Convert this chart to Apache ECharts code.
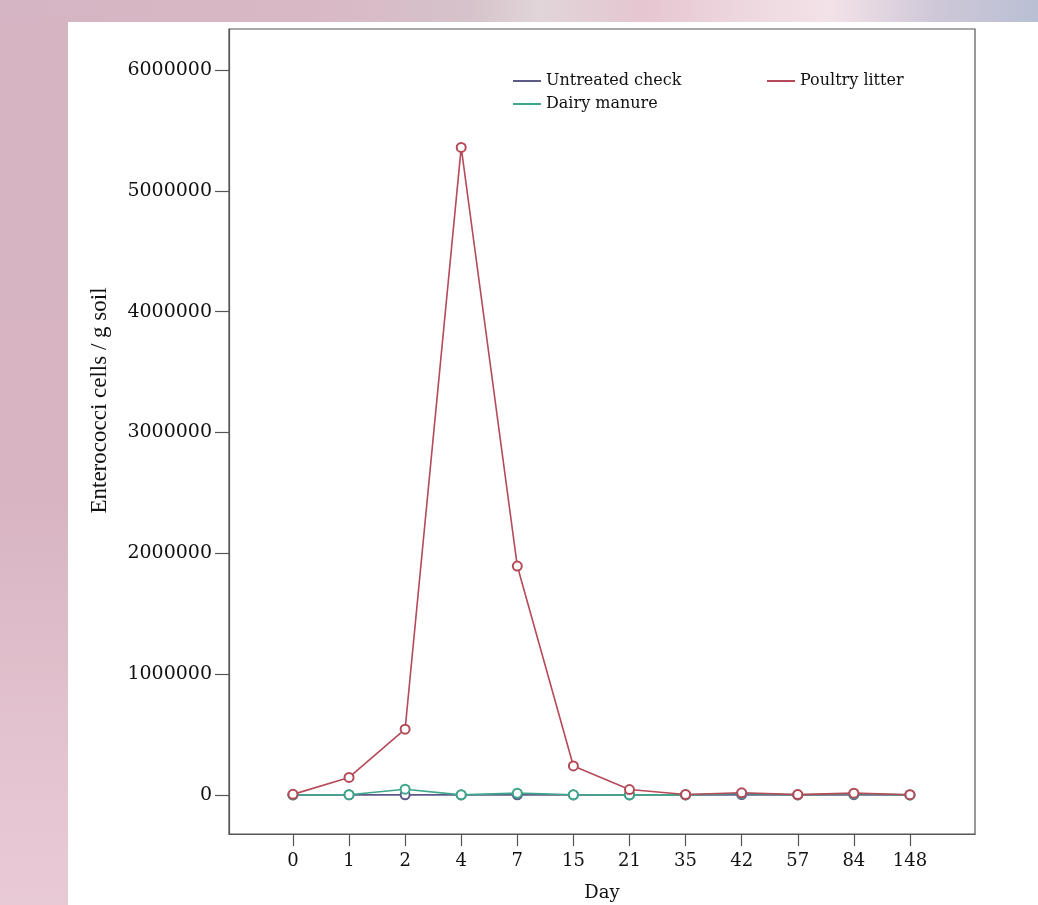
<!DOCTYPE html>
<html>
<head>
<meta charset="utf-8">
<script src="https://cdn.jsdelivr.net/npm/echarts@6/dist/echarts.min.js"></script>
<style>
html, body { margin: 0; padding: 0; }
body {
  width: 1038px; height: 905px; overflow: hidden;
  background:
    linear-gradient(to right, #d5b5c3 0%, #d9b8c6 30%, #d6c2ca 45%, #e0d5d9 52%, #e6c6d0 62%, #eed8e0 72%, #f3e2e8 80%, #cfc8d8 90%, #b9bfd4 100%) top left / 100% 22px no-repeat,
    linear-gradient(to bottom, #d6b4c2 0%, #d8b4c2 55%, #e2c2ce 80%, #e8cad6 100%) top left / 68px 100% no-repeat,
    #ffffff;
}
#chart { position: absolute; left: 0; top: 0; width: 1038px; height: 905px; }
</style>
</head>
<body>
<div id="chart"></div>
<script>
// ---- Data ----
const days = ['0', '1', '2', '4', '7', '15', '21', '35', '42', '57', '84', '148'];
const untreatedCheck = [500, 1000, 1000, 800, 1500, 600, 500, 400, 3000, 500, 2000, 300];
const poultryLitter = [5000, 145000, 545000, 5360000, 1895000, 240000, 45000, 4000, 18000, 3000, 15000, 2000];
const dairyManure = [1000, 2000, 48000, 1000, 15000, 1500, 1000, 1000, 12000, 1000, 10000, 500];
const yTickValues = [0, 1000000, 2000000, 3000000, 4000000, 5000000, 6000000];

const colors = { 'Untreated check': '#5c5b88', 'Poultry litter': '#b54a58', 'Dairy manure': '#3ea68b' };
const dayIndex = days.map((d, i) => i);
const toPairs = arr => arr.map((v, i) => [i, v]);

const serifWide = 'DejaVu Serif';
const serif = '"Liberation Serif", "Times New Roman", serif';

const chart = echarts.init(document.getElementById('chart'), null, { renderer: 'canvas' });

function mkSeries(name, data, z) {
  return {
    name: name,
    type: 'line',
    data: toPairs(data),
    symbol: 'emptyCircle',
    symbolSize: 9,
    z: z,
    lineStyle: { color: colors[name], width: 1.6 },
    itemStyle: { color: colors[name], borderWidth: 1.5 },
    emphasis: { disabled: true },
    animation: false
  };
}

const legendBase = {
  icon: 'rect',
  itemWidth: 28,
  itemHeight: 2,
  itemGap: 5,
  padding: 0,
  textStyle: { fontFamily: serifWide, fontSize: 16, color: '#111' },
  selectedMode: false
};

chart.setOption({
  animation: false,
  backgroundColor: 'transparent',
  grid: {
    left: 229, top: 29, right: 63, bottom: 71,
    outerBoundsMode: 'none',
    containLabel: false,
    show: true, borderColor: '#555', borderWidth: 1.2, backgroundColor: '#fff'
  },
  legend: [
    Object.assign({}, legendBase, { data: ['Untreated check'], left: 513, top: 73 }),
    Object.assign({}, legendBase, { data: ['Poultry litter'], left: 767, top: 73 }),
    Object.assign({}, legendBase, { data: ['Dairy manure'], left: 513, top: 96 })
  ],
  xAxis: {
    type: 'value',
    min: -1.14,
    max: 12.16,
    name: 'Day',
    nameLocation: 'middle',
    nameGap: 50,
    nameTextStyle: { fontFamily: serifWide, fontSize: 18, color: '#111' },
    axisLine: { show: true, onZero: false, lineStyle: { color: '#555', width: 1.2 } },
    axisTick: { show: true, customValues: dayIndex, length: 12, inside: false, lineStyle: { color: '#555', width: 1.2 } },
    axisLabel: {
      customValues: dayIndex,
      formatter: v => days[Math.round(v)],
      margin: 18,
      fontFamily: serifWide, fontSize: 18, color: '#111'
    },
    splitLine: { show: false }
  },
  yAxis: {
    type: 'value',
    min: -323000,
    max: 6340000,
    name: 'Enterococci cells / g soil',
    nameLocation: 'middle',
    nameGap: 118,
    nameTextStyle: { fontFamily: serif, fontSize: 23, color: '#111', padding: [0, 0, 0, 62] },
    axisLine: { show: true, onZero: false, lineStyle: { color: '#555', width: 1.2 } },
    axisTick: { show: true, customValues: yTickValues, length: 14, inside: false, lineStyle: { color: '#555', width: 1.2 } },
    axisLabel: {
      customValues: yTickValues,
      formatter: v => String(v),
      margin: 17,
      fontFamily: serifWide, fontSize: 19, color: '#111'
    },
    splitLine: { show: false }
  },
  series: [
    mkSeries('Untreated check', untreatedCheck, 2),
    mkSeries('Dairy manure', dairyManure, 3),
    mkSeries('Poultry litter', poultryLitter, 4)
  ]
});
</script>
</body>
</html>
